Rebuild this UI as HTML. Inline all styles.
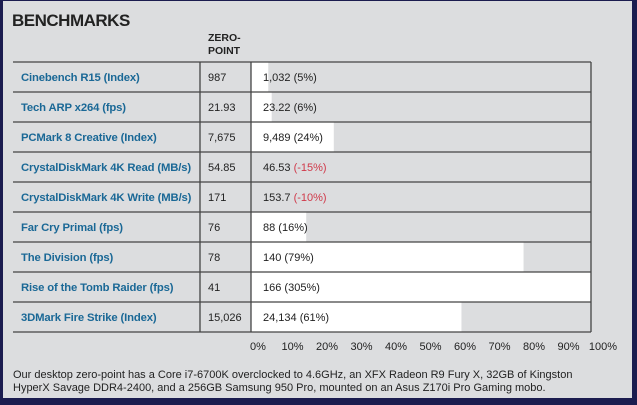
<!DOCTYPE html>
<html><head><meta charset="utf-8"><style>
html,body{margin:0;padding:0;background:#1b1c4f;width:637px;height:405px;overflow:hidden}
svg{display:block;font-family:"Liberation Sans",sans-serif}
</style></head><body>
<svg width="637" height="405">
<rect x="0" y="0" width="637" height="405" fill="#1b1c4f"/>
<rect x="3" y="1" width="629" height="397" fill="#dcdddf"/>
<text x="12" y="26" font-size="17" font-weight="bold" fill="#222" letter-spacing="-0.5">BENCHMARKS</text>
<text x="208" y="41" font-size="10.5" font-weight="bold" fill="#222"><tspan x="208">ZERO-</tspan><tspan x="208" dy="13">POINT</tspan></text>
<g id="rows"></g>
<g id="ticks"></g>
<text x="13" y="378" font-size="11" fill="#222">Our desktop zero-point has a Core i7-6700K overclocked to 4.6GHz, an XFX Radeon R9 Fury X, 32GB of Kingston</text>
<text x="13" y="391" font-size="11" fill="#222">HyperX Savage DDR4-2400, and a 256GB Samsung 950 Pro, mounted on an Asus Z170i Pro Gaming mobo.</text>
</svg>
<script>
const categories=["Cinebench R15 (Index)","Tech ARP x264 (fps)","PCMark 8 Creative (Index)","CrystalDiskMark 4K Read (MB/s)","CrystalDiskMark 4K Write (MB/s)","Far Cry Primal (fps)","The Division (fps)","Rise of the Tomb Raider (fps)","3DMark Fire Strike (Index)"];
const zeroPoint=["987","21.93","7,675","54.85","171","76","78","41","15,026"];
const results=["1,032","23.22","9,489","46.53","153.7","88","140","166","24,134"];
const percentChange=[5,6,24,-15,-10,16,79,305,61];
const tickValues=[0,10,20,30,40,50,60,70,80,90,100];
const tickLabels=["0%","10%","20%","30%","40%","50%","60%","70%","80%","90%","100%"];
const NS="http://www.w3.org/2000/svg";
const X0=251,X1=596,TR=591,TL=13,C1=200,Y0=62,RH=30;
function xs(v){return X0+(v/100)*(X1-X0);}
function ys(i){return Y0+i*RH;}
function mk(t,a,p){const e=document.createElementNS(NS,t);for(const k in a)e.setAttribute(k,a[k]);p.appendChild(e);return e;}
const rows=document.getElementById('rows');
categories.forEach((c,i)=>{
  const y=ys(i);
  if(percentChange[i]>0){
    const w=Math.min(xs(percentChange[i]),TR)-X0;
    const b=mk('rect',{x:X0,y:y,width:w,height:RH,fill:'#ffffff'},rows);
    
    
  }
  const l=mk('text',{x:21,y:y+19,'font-size':11.3,'font-weight':'bold',fill:'#1a6896','letter-spacing':'-0.15'},rows);
  l.textContent=c;
  
  
  const z=mk('text',{x:208,y:y+19,'font-size':11,fill:'#222'},rows);
  z.textContent=zeroPoint[i];
  
  
  const r=mk('text',{x:263,y:y+19,'font-size':11,fill:'#222'},rows);
  r.textContent=results[i]+' ';
  const s=mk('tspan',{fill:percentChange[i]<0?'#d0394a':'#222'},r);
  s.textContent='('+percentChange[i]+'%)';
  
  
});
for(let i=0;i<=categories.length;i++){
  const ln=mk('line',{x1:TL,x2:TR,y1:ys(i),y2:ys(i),stroke:'#444','stroke-width':1.3},rows);
  
  
}
[[C1,'label-column-divider'],[X0,'value-column-divider'],[TR,'table-right-edge']].forEach(d=>{
  const ln=mk('line',{x1:d[0],x2:d[0],y1:Y0,y2:ys(categories.length),stroke:'#444','stroke-width':1.3},rows);
  
  
});
const tk=document.getElementById('ticks');
tickValues.forEach((v,i)=>{
  const t=mk('text',{x:xs(v)+7,y:350,'font-size':11,fill:'#222','text-anchor':'middle'},tk);
  t.textContent=tickLabels[i];
  
  
});
</script>
</body></html>
